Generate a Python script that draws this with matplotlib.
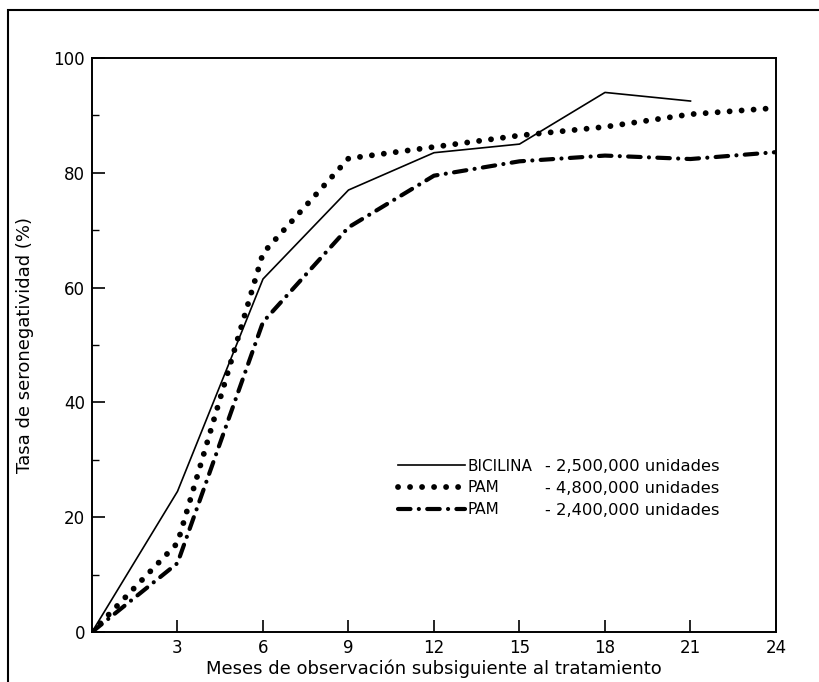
import matplotlib
matplotlib.use("Agg")
import matplotlib.pyplot as plt
from matplotlib.patches import Rectangle

plt.rcParams['font.family'] = ['DejaVu Sans']

# Meses de observacion
meses = [0, 3, 6, 9, 12, 15, 18, 21]
meses_pam = [0, 3, 6, 9, 12, 15, 18, 21, 24]

# Tasa de seronegatividad (%)
bicilina_25 = [0, 24.5, 61.5, 77, 83.5, 85, 94, 92.5]
pam_48 = [0, 15.5, 66, 82.5, 84.5, 86.5, 88, 90.2, 91.3]
pam_24 = [0, 12, 54, 70.5, 79.5, 82, 83, 82.4, 83.6]

etiquetas = ['BICILINA', 'PAM', 'PAM']
dosis = ['- 2,500,000 unidades', '- 4,800,000 unidades', '- 2,400,000 unidades']

fig = plt.figure(figsize=(8.2, 6.82), dpi=100)
ax = fig.add_axes([92/820, 1-632/682, (776-92)/820, (632-58)/682])

l1, = ax.plot(meses, bicilina_25, color='black', lw=1.2)
l2, = ax.plot(meses_pam, pam_48, color='black', lw=4.2,
              dashes=(0.01, 2.05), dash_capstyle='round')
l3, = ax.plot(meses_pam, pam_24, color='black', lw=3.0,
              dashes=(3.0, 2.0, 0.01, 2.0), dash_capstyle='round')

ax.set_xlim(0, 24)
ax.set_ylim(0, 100)
ax.set_xticks([3, 6, 9, 12, 15, 18, 21, 24])
ax.set_xticklabels(['3', '6', '9', '12', '15', '18', '21', '24'])
ax.set_yticks([0, 20, 40, 60, 80, 100])
ax.set_yticks([10, 30, 50, 70, 90], minor=True)
ax.tick_params(which='major', direction='in', length=9, width=1.2,
               labelsize=12, pad=5)
ax.tick_params(which='minor', direction='in', length=5, width=1)
for s in ax.spines.values():
    s.set_linewidth(1.4)

ax.set_xlabel('Meses de observación subsiguiente al tratamiento',
              fontsize=13, labelpad=2)
ax.set_ylabel('Tasa de seronegatividad (%)', fontsize=13, labelpad=14)

# Leyenda
leg = ax.legend([l1, l2, l3], etiquetas, loc='center left',
                bbox_to_anchor=(0.447, 0.251), frameon=False,
                borderaxespad=0, borderpad=0,
                handlelength=4.4, handletextpad=0.15, labelspacing=0.45,
                fontsize=11)
for i, d in enumerate(dosis):
    ax.text(0.662, 0.2885 - i*0.0383, d, transform=ax.transAxes,
            fontsize=11.8, va='center', ha='left')

# Marco exterior
fig.add_artist(Rectangle((8/820, -0.05), 1.2, 1-10/682+0.05,
                         transform=fig.transFigure, fill=False,
                         lw=1.5, color='black'))

fig.savefig('out.png', dpi=100)
